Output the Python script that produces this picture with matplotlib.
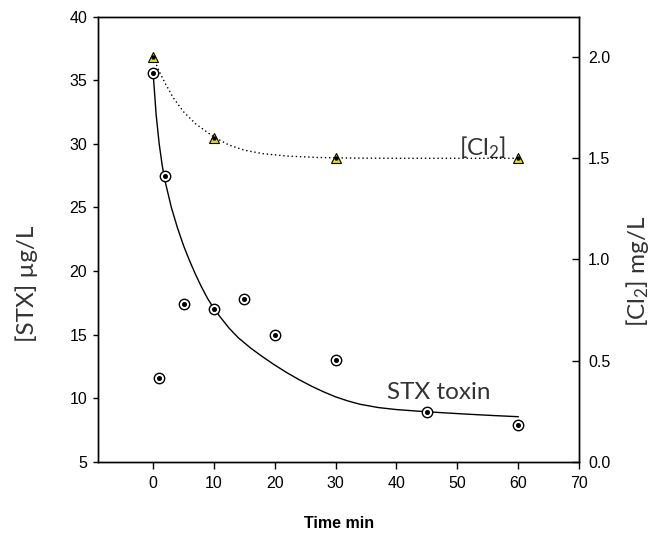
import matplotlib as mpl
mpl.use('Agg')
from matplotlib import pyplot as plt

# %%
# STX measurements (ug/L) and chlorine residual (mg/L) vs time (min)
stxTime = [0, 1, 2, 5, 10, 15, 20, 30, 45, 60]
stxConc = [35.6, 11.6, 27.5, 17.4, 17.0, 17.8, 15.0, 13.0, 8.9, 7.9]

# fitted decay line
stxFitTime = [0, 0.5, 1, 1.5, 2, 3, 4, 5, 6, 7, 8, 9, 10, 11, 12.5, 14, 16, 18,
              20, 22, 24, 26, 28, 30, 32, 34, 37, 40, 44, 48, 52, 56, 60]
stxFitConc = [35.6, 32.3, 30.0, 28.3, 27.0, 25.0, 23.4, 22.0, 20.8, 19.7, 18.7,
              17.8, 17.05, 16.4, 15.5, 14.75, 13.95, 13.25, 12.6, 12.0, 11.45,
              10.95, 10.5, 10.1, 9.78, 9.52, 9.26, 9.1, 8.96, 8.84, 8.73, 8.63, 8.54]

clTime = [0, 10, 30, 60]
clConc = [2.0, 1.6, 1.5, 1.5]

clFitTime = [0, 1, 2, 3.3, 5, 7, 10, 12.5, 15, 18, 22, 27, 33, 40, 60]
clFitConc = [2.0, 1.93, 1.87, 1.80, 1.73, 1.67, 1.605, 1.565, 1.54, 1.523, 1.511,
             1.504, 1.501, 1.500, 1.500]

xTicks = [0, 10, 20, 30, 40, 50, 60, 70]
yTicks = [5, 10, 15, 20, 25, 30, 35, 40]
y2Ticks = [0.0, 0.5, 1.0, 1.5, 2.0]

# %%
labelFont = 'Lato'
tickFont = 'Liberation Sans'
labelColor = '#333333'
labelSize = 17.5
plt.rcParams['mathtext.fontset'] = 'custom'
plt.rcParams['mathtext.rm'] = labelFont
plt.rcParams['mathtext.it'] = labelFont

fig = plt.figure(figsize=(6.68, 5.38), dpi=100)
ax = fig.add_axes([0.1472, 0.1418, 0.7196, 0.8272])
ax2 = ax.twinx()

ax.plot(stxFitTime, stxFitConc, color='black', lw=1.0, zorder=2)
ax.plot(stxTime, stxConc, ls='none', marker='o', ms=7.5, mfc='white', mec='black',
        mew=1.0, zorder=3)
ax.plot(stxTime, stxConc, ls='none', marker='o', ms=2.6, color='black', zorder=4)

ax2.plot(clFitTime, clFitConc, color='black', lw=1.0, ls=(0, (1, 2)), zorder=2)
ax2.plot(clTime, clConc, ls='none', marker='^', ms=7.5, mfc='#e8e000', mec='black',
         mew=0.8, zorder=3)
ax2.plot(clTime, clConc, ls='none', marker='o', ms=2.2, color='black', zorder=4)

ax.set_xlim(-9, 70)
ax.set_ylim(5, 40)
ax2.set_ylim(0, 2.2)

ax.set_xticks(xTicks)
ax.set_yticks(yTicks)
ax2.set_yticks(y2Ticks)
ax2.set_yticklabels(['%.1f' % v for v in y2Ticks])

for a in (ax, ax2):
    for s in a.spines.values():
        s.set_linewidth(1.0)
    for lab in a.get_xticklabels() + a.get_yticklabels():
        lab.set_fontfamily(tickFont)
        lab.set_fontsize(11.5)

ax.tick_params(axis='x', direction='out', length=5, width=1.0, pad=5)
ax.tick_params(axis='y', direction='out', length=3.5, width=1.0, pad=4.5)
ax2.tick_params(axis='y', direction='in', length=5, width=1.0, pad=6.5)

ax.set_xlabel('Time min', fontfamily=tickFont, fontweight='bold', fontsize=11.5,
              va='center')
ax.xaxis.set_label_coords(0.5007, -0.138)
ax.set_ylabel('[STX] µg/L', fontfamily=labelFont, fontsize=labelSize,
              color=labelColor, va='center')
ax.yaxis.set_label_coords(-0.150, 0.40)
ax2.set_ylabel('[Cl$_2$] mg/L', fontfamily=labelFont, fontsize=labelSize,
               color=labelColor, va='center')
ax2.yaxis.set_label_coords(1.121, 0.427)

ax.text(38.5, 9.9, 'STX toxin', fontfamily=labelFont, fontsize=labelSize,
        color=labelColor, ha='left', va='baseline')
ax.text(50.3, 29.1, '[Cl$_2$]', fontfamily=labelFont, fontsize=labelSize,
        color=labelColor, ha='left', va='baseline')

plt.savefig('out.png', dpi=100)
